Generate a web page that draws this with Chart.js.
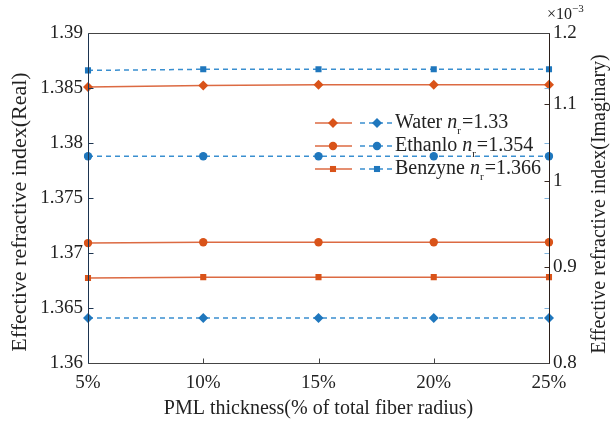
<!DOCTYPE html>
<html>
<head>
<meta charset="utf-8">
<script src="https://cdn.jsdelivr.net/npm/chart.js@4/dist/chart.umd.min.js"></script>
<style>
  html, body { margin: 0; padding: 0; background: #fff; }
  #wrap { width: 616px; height: 421px; }
</style>
</head>
<body>
<div id="wrap"><canvas id="chart" width="616" height="421"></canvas></div>
<script>
// PML thickness, % of total fiber radius
const thickness = ['5%', '10%', '15%', '20%', '25%'];

// real part (left axis)
const realWater   = [1.3641, 1.3641, 1.3641, 1.3641, 1.3641];
const realEthanol = [1.3788, 1.3788, 1.3788, 1.3788, 1.3788];
const realBenzyne = [1.3866, 1.3867, 1.3867, 1.3867, 1.3867];

// imaginary part, x 10^-3 (right axis, log)
const imagWater   = [1.123, 1.125, 1.126, 1.126, 1.126];
const imagEthanol = [0.927, 0.928, 0.928, 0.928, 0.928];
const imagBenzyne = [0.888, 0.889, 0.889, 0.889, 0.889];

const realTicks = [1.36, 1.365, 1.37, 1.375, 1.38, 1.385, 1.39];
const imagTicks = [0.8, 0.9, 1, 1.1, 1.2];

const legendItems = [
    { name: 'Water', n: '=1.33', style: 'rectRot', r: 5 },
    { name: 'Ethanlo', n: '=1.354', style: 'circle', r: 4.2 },
    { name: 'Benzyne', n: '=1.366', style: 'rect', r: 4.3 }
];

const orange = '#d95319';
const orangeLine = '#dc6a42';
const blue = '#1f77bd';
const blueLine = '#3a8fd0';
const serif = '"Liberation Serif", "Times New Roman", serif';

function realSet(data, style, r) {
    return {
        data: data, yAxisID: 'y',
        borderColor: blueLine, backgroundColor: blue,
        borderWidth: 1.5, borderDash: [5, 4],
        pointStyle: style, pointRadius: r, pointBorderWidth: 0,
        tension: 0
    };
}
function imagSet(data, style, r) {
    return {
        data: data, yAxisID: 'y1',
        borderColor: orangeLine, backgroundColor: orange,
        borderWidth: 1.5,
        pointStyle: style, pointRadius: r, pointBorderWidth: 0,
        tension: 0
    };
}

// frame, inward ticks, rotated titles, legend
const extras = {
    id: 'extras',
    afterDraw(chart) {
        const { ctx, chartArea: a, scales } = chart;
        const L = Math.round(a.left) + 0.5, R = Math.round(a.right) + 0.5;
        const T = Math.round(a.top) + 0.5, B = Math.round(a.bottom) + 0.5;
        ctx.save();
        ctx.lineWidth = 1;

        // inward ticks
        ctx.strokeStyle = '#1d3450';
        realTicks.forEach(v => {
            const y = Math.round(scales.y.getPixelForValue(v)) + 0.5;
            ctx.beginPath(); ctx.moveTo(L, y); ctx.lineTo(L + 5, y); ctx.stroke();
        });
        ctx.strokeStyle = '#7fb3dc';
        realTicks.forEach(v => {
            const y = Math.round(scales.y.getPixelForValue(v)) + 0.5;
            ctx.beginPath(); ctx.moveTo(R, y); ctx.lineTo(R - 5, y); ctx.stroke();
        });
        ctx.strokeStyle = '#3a2a22';
        imagTicks.forEach(v => {
            const y = Math.round(scales.y1.getPixelForValue(v)) + 0.5;
            ctx.beginPath(); ctx.moveTo(R, y); ctx.lineTo(R - 5, y); ctx.stroke();
        });
        ctx.strokeStyle = '#444';
        thickness.forEach((t, i) => {
            const x = Math.round(scales.x.getPixelForValue(i)) + 0.5;
            ctx.beginPath(); ctx.moveTo(x, B); ctx.lineTo(x, B - 5); ctx.stroke();
        });

        // frame
        ctx.strokeStyle = '#444';
        ctx.beginPath(); ctx.moveTo(L, T); ctx.lineTo(R, T); ctx.stroke();
        ctx.beginPath(); ctx.moveTo(L, B); ctx.lineTo(R, B); ctx.stroke();
        ctx.strokeStyle = '#1d3450';
        ctx.beginPath(); ctx.moveTo(L, T); ctx.lineTo(L, B); ctx.stroke();
        ctx.strokeStyle = '#2b1f1a';
        ctx.beginPath(); ctx.moveTo(R, T); ctx.lineTo(R, B); ctx.stroke();

        // axis titles
        ctx.fillStyle = '#222';
        ctx.textAlign = 'center';
        ctx.textBaseline = 'middle';
        ctx.save();
        ctx.font = '22px ' + serif;
        ctx.translate(20, 212);
        ctx.rotate(-Math.PI / 2);
        ctx.fillText('Effective refractive index(Real)', 0, 0);
        ctx.restore();
        ctx.save();
        ctx.font = '20px ' + serif;
        ctx.translate(600, 204);
        ctx.rotate(-Math.PI / 2);
        ctx.fillText('Effective refractive index(Imaginary)', 0, 0);
        ctx.restore();

        // x 10^-3
        ctx.textAlign = 'left';
        ctx.font = '16px ' + serif;
        ctx.fillText('\u00d710', 547, 15);
        const w10 = ctx.measureText('\u00d710').width;
        ctx.font = '11px ' + serif;
        ctx.fillText('\u22123', 547 + w10, 9);

        // legend
        const rows = [123, 146, 169];
        legendItems.forEach((it, i) => {
            const y = rows[i];
            ctx.lineWidth = 1.5;
            ctx.setLineDash([]);
            ctx.strokeStyle = orangeLine;
            ctx.beginPath(); ctx.moveTo(315, y); ctx.lineTo(352, y); ctx.stroke();
            ctx.fillStyle = orange;
            Chart.helpers.drawPoint(ctx, { pointStyle: it.style, radius: it.r, borderWidth: 0 }, 333, y);
            ctx.strokeStyle = blueLine;
            ctx.setLineDash([5, 4]);
            ctx.beginPath(); ctx.moveTo(360, y); ctx.lineTo(393, y); ctx.stroke();
            ctx.setLineDash([]);
            ctx.fillStyle = blue;
            Chart.helpers.drawPoint(ctx, { pointStyle: it.style, radius: it.r, borderWidth: 0 }, 377, y);

            ctx.fillStyle = '#222';
            ctx.textBaseline = 'middle';
            let x = 395;
            ctx.font = '20px ' + serif;
            ctx.fillText(it.name + ' ', x, y);
            x += ctx.measureText(it.name + ' ').width;
            ctx.font = 'italic 20px ' + serif;
            ctx.fillText('n', x, y);
            x += ctx.measureText('n').width;
            ctx.font = '11px ' + serif;
            ctx.fillText('r', x, y + 8);
            x += ctx.measureText('r').width + 1;
            ctx.font = '20px ' + serif;
            ctx.fillText(it.n, x, y);
        });
        ctx.restore();
    }
};

new Chart(document.getElementById('chart'), {
    type: 'line',
    data: {
        labels: thickness,
        datasets: [
            realSet(realWater, 'rectRot', 5),
            realSet(realEthanol, 'circle', 4.2),
            realSet(realBenzyne, 'rect', 4.3),
            imagSet(imagWater, 'rectRot', 5),
            imagSet(imagEthanol, 'circle', 4.2),
            imagSet(imagBenzyne, 'rect', 4.3)
        ]
    },
    options: {
        responsive: false,
        animation: false,
        layout: { padding: { top: 33, right: 0, left: 0, bottom: 0 } },
        plugins: { legend: { display: false }, tooltip: { enabled: false } },
        scales: {
            x: {
                offset: false,
                grid: { display: false, drawTicks: false },
                border: { display: false },
                ticks: { color: '#222', padding: 9, maxRotation: 0, font: { family: serif, size: 19 } },
                title: {
                    display: true, text: 'PML thickness(% of total fiber radius)', color: '#222',
                    padding: { top: 0, bottom: 0 }, font: { family: serif, size: 20 }
                },
                afterFit: s => { s.height = 58; }
            },
            y: {
                position: 'left',
                min: 1.36, max: 1.39,
                grid: { display: false, drawTicks: false },
                border: { display: false },
                afterBuildTicks: s => { s.ticks = realTicks.map(v => ({ value: v })); },
                ticks: {
                    color: '#222', padding: 5, font: { family: serif, size: 19 },
                    callback: v => String(+v.toFixed(3))
                },
                afterFit: s => { s.width = 88; }
            },
            y1: {
                type: 'logarithmic',
                position: 'right',
                min: 0.8, max: 1.2,
                grid: { display: false, drawTicks: false },
                border: { display: false },
                afterBuildTicks: s => { s.ticks = imagTicks.map(v => ({ value: v })); },
                ticks: {
                    color: '#222', padding: 4, font: { family: serif, size: 19 },
                    callback: v => String(+(+v).toFixed(1))
                },
                afterFit: s => { s.width = 67; }
            }
        }
    },
    plugins: [extras]
});
</script>
</body>
</html>
